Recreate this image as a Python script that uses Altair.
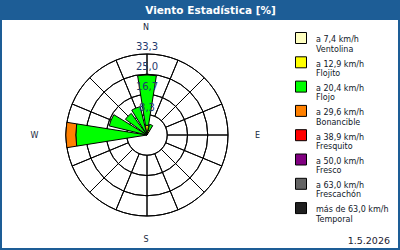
import altair as alt
import pandas as pd

# ---- data -------------------------------------------------------------
directions = ["N", "NNE", "NE", "ENE", "E", "ESE", "SE", "SSE",
              "S", "SSW", "SW", "WSW", "W", "WNW", "NW", "NNW"]
dir_angles = [0, 22.5, 45, 67.5, 90, 112.5, 135, 157.5,
              180, 202.5, 225, 247.5, 270, 292.5, 315, 337.5]

classes = ["Ventolina", "Flojito", "Flojo", "Bonancible",
           "Fresquito", "Fresco", "Frescachón", "Temporal"]
limits = ["a 7,4 km/h", "a 12,9 km/h", "a 20,4 km/h", "a 29,6 km/h",
          "a 38,9 km/h", "a 50,0 km/h", "a 63,0 km/h", "más de 63,0 km/h"]
colors = ["#ffffc0", "#ffff00", "#00ff00", "#ff8000",
          "#ff0000", "#800080", "#646464", "#202020"]

# percentage per direction (N .. NNW) for each speed class
ventolina  = [1.0, 0.5, 0, 0, 0, 0, 0, 0, 0, 0, 0, 0, 0, 0, 0, 0]
flojito    = [3.0, 1.5, 0, 0, 0, 0, 0, 0, 0, 0, 0, 0, 0, 0, 0, 0]
flojo      = [20.7, 2.5, 0, 0, 0, 0, 0, 0, 0, 0, 0, 0, 29.3, 16.0, 11.0, 12.0]
bonancible = [0, 0, 0, 0, 0, 0, 0, 0, 0, 0, 0, 0, 4.1, 0, 0, 0]
fresquito  = [0] * 16
fresco     = [0] * 16
frescachon = [0] * 16
temporal   = [0] * 16
series = [ventolina, flojito, flojo, bonancible,
          fresquito, fresco, frescachon, temporal]

ring_values = [8.333, 16.667, 25.0, 33.333]
ring_labels = ["8,3", "16,7", "25,0", "33,3"]

cardinal_ns = ["N", "S"]
cardinal_ns_angles = [0, 180]
cardinal_ew = ["E", "W"]
cardinal_ew_angles = [90, 270]

title_text = "Viento Estadística [%]"
date_text = "1.5.2026"

# ---- tables -------------------------------------------------------------
rows = []
for ci, (cls, vals) in enumerate(zip(classes, series)):
    for d, a, v in zip(directions, dir_angles, vals):
        rows.append({"dir": d, "angle": a, "cls": cls, "order": ci, "value": v})
petals = pd.DataFrame(rows)
rings = pd.DataFrame({"r": ring_values, "lab": ring_labels})
spokes = pd.DataFrame({"angle": dir_angles})
legend_df = pd.DataFrame({"cls": classes, "limit": limits})
ns_df = pd.DataFrame({"t": cardinal_ns, "angle": cardinal_ns_angles})
ew_df = pd.DataFrame({"t": cardinal_ew, "angle": cardinal_ew_angles})

CX, CY = 147, 135
theta_scale = alt.Scale(type="linear", domain=[0, 360], range=[0, 6.283185307179586], nice=False, zero=False)
r_scale = alt.Scale(type="linear", domain=[0, 33.333], range=[0, 81], nice=False, zero=True)
color_scale = alt.Scale(domain=classes, range=colors)
FONT = "DejaVu Sans"
NAVY = "#1f3a6e"
BLUE = "#1d5d96"

one = pd.DataFrame({"k": [0]})

# title bar
bar = alt.Chart(one).mark_rect(color=BLUE).encode(
    x=alt.value(0), x2=alt.value(400), y=alt.value(0), y2=alt.value(20))
title = alt.Chart(one).mark_text(
    font=FONT, fontSize=10.5, fontWeight="bold", color="white",
    align="center", baseline="middle").encode(
    x=alt.value(210.5), y=alt.value(10.5), text=alt.value(title_text))

# grid rings
ring_layer = alt.Chart(rings).mark_arc(filled=False, stroke="black", strokeWidth=1).encode(
    theta=alt.Theta(datum=0, type="quantitative", scale=theta_scale),
    theta2=alt.Theta2(datum=360),
    radius=alt.Radius("r:Q", scale=r_scale, stack=None),
    radius2="r:Q",
    x=alt.value(CX), y=alt.value(CY))

# spokes
spoke_layer = alt.Chart(spokes).mark_arc(filled=False, stroke="black", strokeWidth=1).encode(
    theta=alt.Theta("angle:Q", scale=theta_scale, stack=None),
    theta2="angle:Q",
    radius=alt.Radius(datum=33.333, type="quantitative", scale=r_scale),
    radius2=alt.Radius2(datum=8.333),
    x=alt.value(CX), y=alt.value(CY))

# petals (stacked by speed class)
petal_layer = alt.Chart(petals).transform_filter(
    "datum.value > 0"
).transform_window(
    cum="sum(value)", groupby=["dir"], sort=[alt.SortField("order")], frame=[None, 0]
).transform_calculate(
    r0="datum.cum - datum.value", t1="datum.angle - 9", t2="datum.angle + 9"
).mark_arc(stroke="black", strokeWidth=1).encode(
    theta=alt.Theta("t1:Q", scale=theta_scale, stack=None),
    theta2="t2:Q",
    radius=alt.Radius("cum:Q", scale=r_scale, stack=None),
    radius2="r0:Q",
    color=alt.Color("cls:N", scale=color_scale, legend=None),
    x=alt.value(CX), y=alt.value(CY))

# ring labels
ring_text = alt.Chart(rings).mark_text(
    font=FONT, fontSize=10, color=NAVY, align="center", baseline="middle", dy=-7).encode(
    theta=alt.Theta(datum=0, type="quantitative", scale=theta_scale),
    radius=alt.Radius("r:Q", scale=r_scale, stack=None),
    text="lab:N",
    x=alt.value(CX), y=alt.value(CY))

# cardinal labels
ns_text = alt.Chart(ns_df).mark_text(
    font=FONT, fontSize=8, color="#202840", align="center", baseline="middle").encode(
    theta=alt.Theta("angle:Q", scale=theta_scale, stack=None),
    radius=alt.value(106),
    text="t:N", x=alt.value(146), y=alt.value(133.5))
ew_text = alt.Chart(ew_df).mark_text(
    font=FONT, fontSize=8, color="#202840", align="center", baseline="middle").encode(
    theta=alt.Theta("angle:Q", scale=theta_scale, stack=None),
    radius=alt.value(111.5),
    text="t:N", x=alt.value(146), y=alt.value(135.5))

# legend
ly = alt.Y("cls:N", sort=classes, scale=alt.Scale(type="point", range=[38, 208.1], padding=0), axis=None)
leg_sq = alt.Chart(legend_df).mark_square(size=121, stroke="black", strokeWidth=1, opacity=1).encode(
    x=alt.value(301), y=ly,
    color=alt.Color("cls:N", scale=color_scale, legend=None))
leg_t1 = alt.Chart(legend_df).mark_text(
    font=FONT, fontSize=8, color="#101828", align="left", baseline="alphabetic", dy=4.3).encode(
    x=alt.value(316), y=ly, text="limit:N")
leg_t2 = alt.Chart(legend_df).mark_text(
    font=FONT, fontSize=8, color="#101828", align="left", baseline="alphabetic", dy=13.6).encode(
    x=alt.value(316), y=ly, text="cls:N")

# date
date = alt.Chart(one).mark_text(
    font=FONT, fontSize=9.5, color="#1a2030", align="right", baseline="middle").encode(
    x=alt.value(390), y=alt.value(241), text=alt.value(date_text))

chart = alt.layer(
    bar, title, ring_layer, spoke_layer, petal_layer, ring_text,
    ns_text, ew_text, leg_sq, leg_t1, leg_t2, date
).properties(
    width=400, height=250,
    autosize=alt.AutoSizeParams(type="none"),
    padding=0,
    background="white"
).configure_view(stroke=BLUE, strokeWidth=4)

chart.save("out.html", embed_options={"renderer": "svg", "actions": False})
